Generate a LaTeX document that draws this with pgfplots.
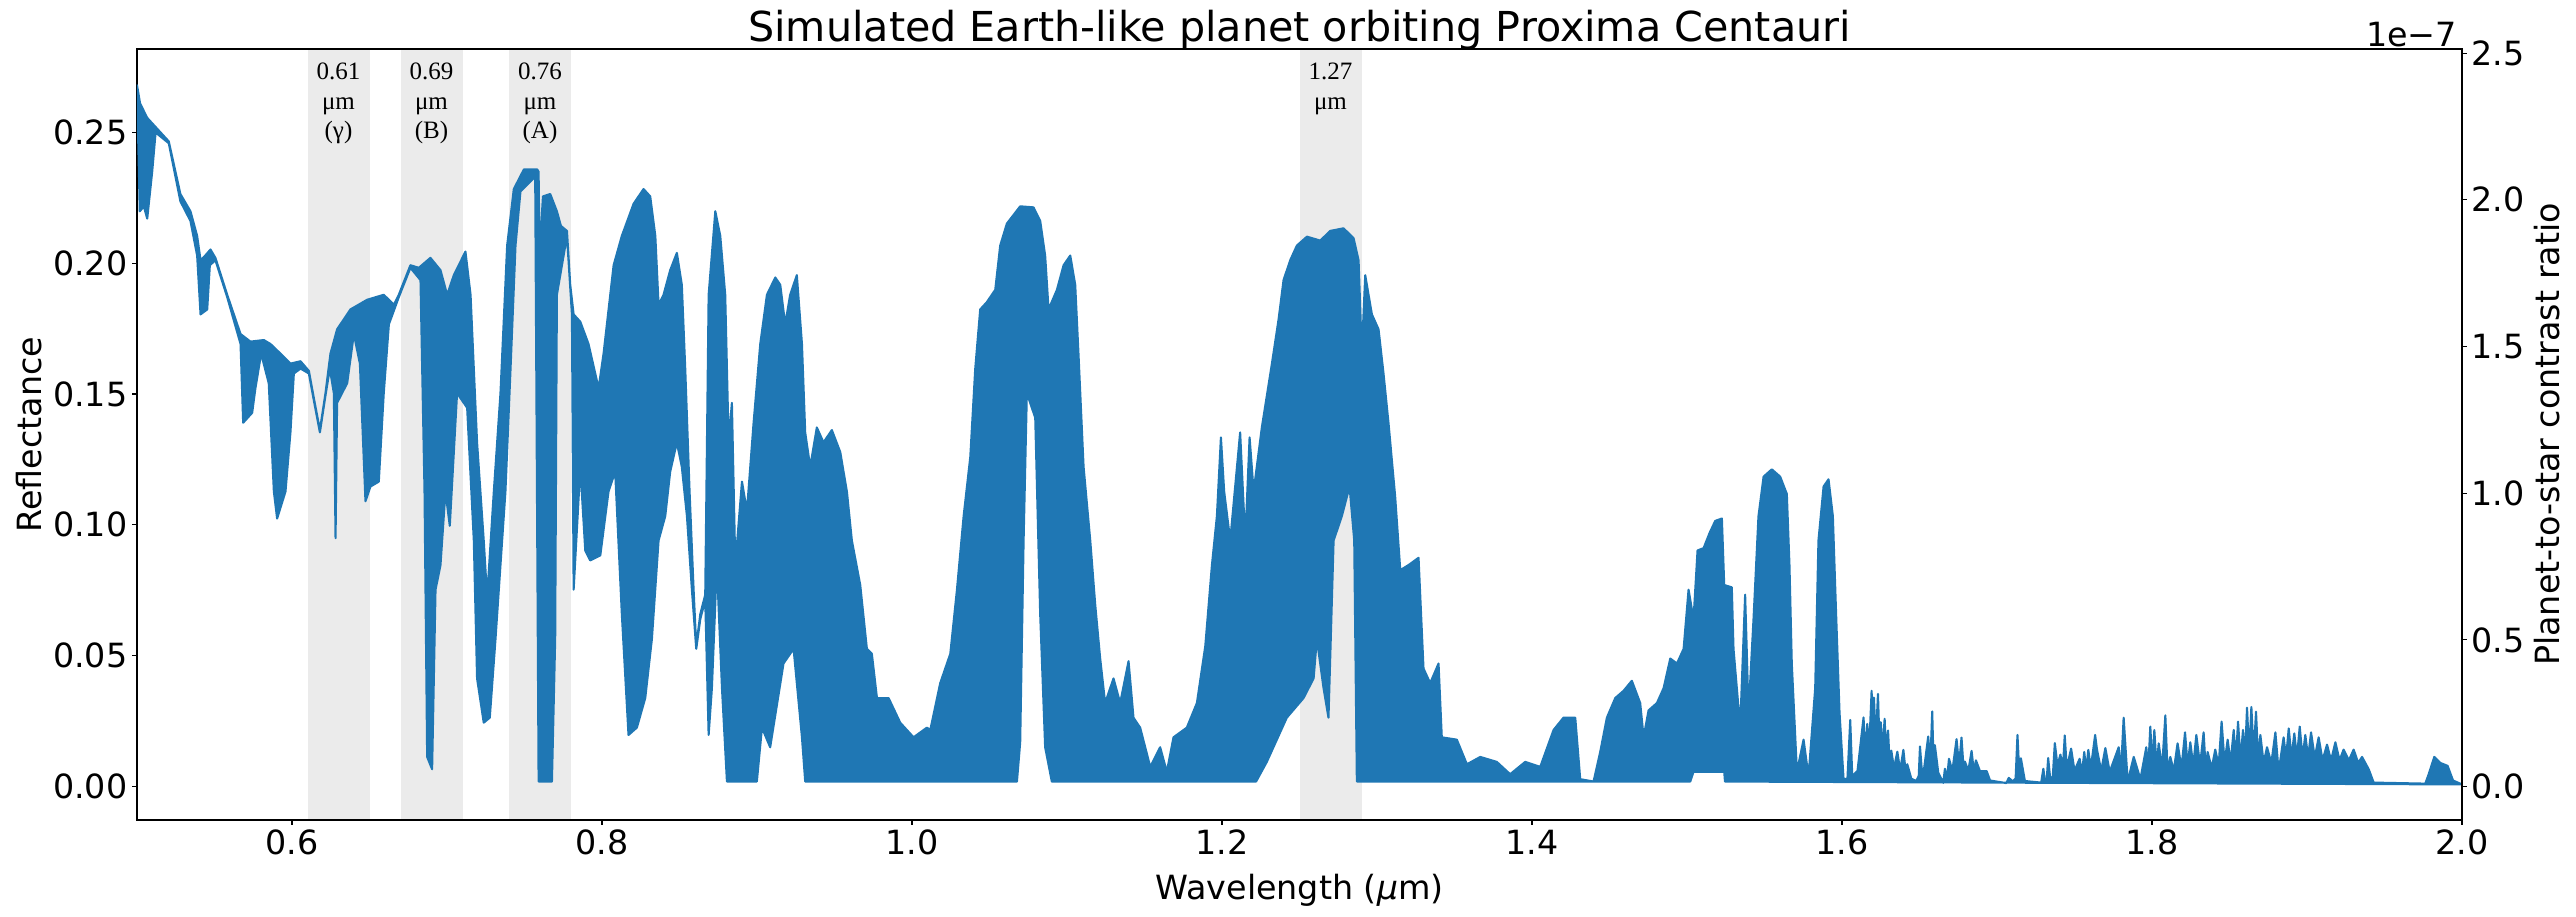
\documentclass[border=0pt]{standalone}
\usepackage{fontspec}
\setmainfont{DejaVu Sans}
\newfontfamily\annfont{Liberation Serif}
\usepackage{pgfplots}
\pgfplotsset{compat=1.18}
\definecolor{mplblue}{HTML}{1F77B4}
\definecolor{band}{HTML}{EBEBEB}
\newcommand\tickfont{\fontsize{24}{28}\selectfont}
\newcommand\annsize{\annfont\fontsize{18}{21}\selectfont}

\begin{document}
\begin{tikzpicture}
\pgfplotsset{
  base/.style={width=1674pt, height=555.1pt, scale only axis,
    at={(0,0)}, anchor=south west,
    xmin=0.5, xmax=2.0, ymin=-0.0128, ymax=0.2818},
}
% shaded O2 bands
\begin{axis}[base, hide axis]
  \addplot[fill=band, draw=none] coordinates {(0.61,-0.1)(0.65,-0.1)(0.65,0.5)(0.61,0.5)} -- cycle;
  \addplot[fill=band, draw=none] coordinates {(0.67,-0.1)(0.71,-0.1)(0.71,0.5)(0.67,0.5)} -- cycle;
  \addplot[fill=band, draw=none] coordinates {(0.74,-0.1)(0.78,-0.1)(0.78,0.5)(0.74,0.5)} -- cycle;
  \addplot[fill=band, draw=none] coordinates {(1.25,-0.1)(1.29,-0.1)(1.29,0.5)(1.25,0.5)} -- cycle;
\end{axis}

\begin{axis}[base, name=ax,
  axis line style={line width=0.8pt, black},
  tick align=outside, xtick pos=bottom, ytick pos=left,
  major tick length=3.5pt,
  every tick/.style={black, line width=0.8pt},
  xtick={0.6,0.8,1.0,1.2,1.4,1.6,1.8,2.0},
  ytick={0,0.05,0.1,0.15,0.2,0.25},
  /pgf/number format/assume math mode=true,
  tick label style={font=\tickfont},
  xticklabel style={/pgf/number format/.cd, fixed, fixed zerofill, precision=1},
  yticklabel style={/pgf/number format/.cd, fixed, fixed zerofill, precision=2},
]
  % spectrum: upper envelope left to right, then lower envelope right to left
  \addplot[fill=mplblue, draw=mplblue, line width=1.5pt, line join=round] coordinates {
(0.500,0.268)(0.502,0.261)(0.5066,0.2555)(0.512,0.252)(0.5205,0.2465)(0.528,0.2264)(0.5345,0.2198)(0.5388,0.2104)(0.541,0.2011)(0.5442,0.203)(0.5474,0.2052)(0.5506,0.202)(0.5582,0.1879)(0.5668,0.1729)(0.5732,0.170)(0.5818,0.1706)(0.5861,0.1691)(0.5926,0.1654)(0.599,0.1616)(0.6055,0.1625)(0.6109,0.1588)(0.6141,0.1484)(0.618,0.1362)(0.6216,0.1503)(0.6248,0.1654)(0.6291,0.1747)(0.6377,0.1823)(0.6485,0.186)(0.6592,0.1879)(0.6657,0.1841)(0.6689,0.1879)(0.6764,0.1992)(0.6818,0.1982)(0.6893,0.202)(0.6958,0.1973)(0.7001,0.1879)(0.7044,0.1954)(0.7119,0.2044)(0.7152,0.1879)(0.7194,0.1315)(0.7237,0.094)(0.7259,0.0723)(0.7302,0.1127)(0.7345,0.1503)(0.7388,0.2067)(0.7431,0.2283)(0.7496,0.2358)(0.7582,0.2358)(0.7591,0.2349)(0.7597,0.203)(0.7619,0.2255)(0.7666,0.2264)(0.7709,0.2198)(0.7735,0.2142)(0.7774,0.2123)(0.7795,0.1917)(0.7817,0.1804)(0.786,0.1776)(0.7913,0.1691)(0.7978,0.1522)(0.801,0.1654)(0.8075,0.1992)(0.8128,0.2104)(0.8204,0.2227)(0.8268,0.2283)(0.8311,0.2255)(0.8344,0.2104)(0.8365,0.1841)(0.8397,0.1879)(0.844,0.1973)(0.8483,0.2039)(0.8515,0.1917)(0.8537,0.1597)(0.8565,0.1127)(0.8591,0.0752)(0.8608,0.0536)(0.8634,0.0658)(0.8666,0.0733)(0.8688,0.1879)(0.8731,0.2198)(0.8763,0.2104)(0.8795,0.1879)(0.8817,0.1315)(0.8838,0.1466)(0.886,0.0846)(0.8903,0.1165)(0.8935,0.1052)(0.8978,0.139)(0.9021,0.1691)(0.9064,0.1879)(0.9118,0.1945)(0.915,0.1917)(0.9182,0.1766)(0.9214,0.1879)(0.9257,0.1954)(0.929,0.1691)(0.9311,0.1353)(0.9343,0.1221)(0.9386,0.1372)(0.9429,0.1315)(0.9483,0.1362)(0.9537,0.1278)(0.958,0.1127)(0.9612,0.094)(0.9666,0.077)(0.9709,0.0526)(0.9741,0.0507)(0.9774,0.0338)(0.9849,0.0338)(0.9924,0.0244)(1.001,0.0188)(1.0096,0.0225)(1.0118,0.0216)(1.0182,0.0395)(1.0247,0.0507)(1.029,0.0752)(1.0333,0.1033)(1.0376,0.1259)(1.0408,0.1597)(1.044,0.1823)(1.0483,0.1851)(1.0537,0.1898)(1.0569,0.2067)(1.0612,0.2151)(1.0698,0.2217)(1.0784,0.2213)(1.0827,0.2161)(1.0859,0.2029)(1.0881,0.1823)(1.0935,0.1898)(1.0978,0.1992)(1.1021,0.2029)(1.1053,0.1917)(1.1074,0.1654)(1.1107,0.1221)(1.115,0.094)(1.1182,0.0695)(1.1214,0.0489)(1.1246,0.0319)(1.13,0.0413)(1.1343,0.0319)(1.1397,0.0479)(1.1429,0.0263)(1.1472,0.0225)(1.1537,0.0075)(1.1601,0.015)(1.1644,0.0056)(1.1687,0.0188)(1.1773,0.0225)(1.1838,0.0319)(1.1892,0.0536)(1.1935,0.0846)(1.1967,0.1033)(1.1993,0.1334)(1.2014,0.1127)(1.2053,0.094)(1.2117,0.1353)(1.215,0.094)(1.2178,0.1334)(1.2204,0.1127)(1.2257,0.1372)(1.2322,0.1616)(1.2365,0.1785)(1.2397,0.1935)(1.244,0.2011)(1.2483,0.2067)(1.2548,0.2101)(1.2634,0.2086)(1.2698,0.2123)(1.2784,0.2133)(1.2849,0.2095)(1.2881,0.2011)(1.2902,0.1654)(1.2924,0.1954)(1.2967,0.1804)(1.301,0.1747)(1.3042,0.1578)(1.3074,0.139)(1.3117,0.1109)(1.315,0.0827)(1.3203,0.0846)(1.3268,0.0874)(1.33,0.0451)(1.3343,0.0395)(1.3397,0.047)(1.3418,0.0188)(1.3515,0.0179)(1.358,0.0085)(1.3666,0.0113)(1.3773,0.0094)(1.3859,0.0047)(1.3956,0.0094)(1.4053,0.0075)(1.4139,0.0216)(1.4203,0.0263)(1.4279,0.0263)(1.4311,0.0028)(1.4397,0.0019)(1.444,0.0132)(1.4483,0.0263)(1.4537,0.0338)(1.4591,0.0366)(1.4644,0.0404)(1.4698,0.0319)(1.472,0.0188)(1.4752,0.0291)(1.4806,0.0319)(1.4849,0.0376)(1.4892,0.0489)(1.4935,0.047)(1.4978,0.0526)(1.501,0.0752)(1.5042,0.0639)(1.5068,0.0902)(1.5107,0.0911)(1.5145,0.0968)(1.5182,0.1015)(1.5225,0.1024)(1.524,0.077)(1.5289,0.0761)(1.53,0.0526)(1.5343,0.0225)(1.5375,0.0733)(1.5397,0.0282)(1.5429,0.0639)(1.5461,0.1033)(1.5494,0.1184)(1.5547,0.1212)(1.5601,0.1184)(1.5644,0.1118)(1.5661,0.0846)(1.5676,0.047)(1.5709,0.0056)(1.5752,0.0179)(1.5784,0.0038)(1.5827,0.0376)(1.5848,0.094)(1.5881,0.1146)(1.5913,0.1174)(1.5941,0.1033)(1.5962,0.0658)(1.5984,0.0282)(1.601,0.0028)
(1.6035,0.003)(1.6053,0.0254)(1.6066,0.004)(1.61,0.006)(1.6139,0.0264)(1.615,0.012)(1.6163,0.0239)(1.6175,0.014)(1.6191,0.0366)(1.62,0.018)(1.6206,0.034)(1.6218,0.017)(1.6232,0.0354)(1.6242,0.016)(1.625,0.0246)(1.6262,0.014)(1.6275,0.0259)(1.6285,0.012)(1.6297,0.0214)(1.6307,0.009)(1.6318,0.0137)(1.6335,0.007)(1.6357,0.0133)(1.6375,0.006)(1.6396,0.014)(1.641,0.006)(1.6421,0.0085)(1.6447,0.003)(1.6479,0.0021)(1.6495,0.004)(1.6503,0.0153)(1.6515,0.006)(1.653,0.007)(1.6556,0.0191)(1.657,0.009)(1.6582,0.0287)(1.659,0.01)(1.6599,0.0158)(1.6621,0.0053)(1.6653,0.0014)(1.6664,0.0068)(1.6678,0.003)(1.669,0.0106)(1.6712,0.006)(1.6739,0.0181)(1.6755,0.008)(1.6771,0.0187)(1.6783,0.008)(1.6793,0.0095)(1.6815,0.006)(1.6836,0.0136)(1.685,0.006)(1.6864,0.01)(1.689,0.0059)(1.6933,0.0059)(1.6955,0.0023)(1.706,0.0013)(1.7076,0.0033)(1.71,0.002)(1.712,0.003)(1.7132,0.0197)(1.7143,0.006)(1.7154,0.0108)(1.718,0.0021)(1.7285,0.0015)(1.7299,0.0068)(1.731,0.0015)(1.732,0.002)(1.733,0.0109)(1.7345,0.002)(1.736,0.004)(1.7373,0.0166)(1.739,0.008)(1.7409,0.0122)(1.7425,0.007)(1.7437,0.0195)(1.745,0.007)(1.7478,0.0145)(1.75,0.006)(1.7533,0.0106)(1.7548,0.005)(1.7563,0.0132)(1.7575,0.006)(1.7589,0.014)(1.7605,0.007)(1.7633,0.0197)
(1.7645,0.0141)(1.7672,0.006)(1.7699,0.0147)(1.7727,0.0056)(1.7785,0.015)(1.78,0.006)(1.7817,0.0263)(1.7843,0.0019)(1.7882,0.0113)(1.7925,0.0028)(1.7963,0.015)(1.7976,0.007)(1.7989,0.0229)(1.8002,0.008)(1.8015,0.0216)(1.803,0.007)(1.8043,0.0165)(1.8065,0.007)(1.8086,0.0272)(1.81,0.006)(1.8118,0.0113)(1.814,0.006)(1.8165,0.0165)(1.819,0.007)(1.8213,0.0207)(1.823,0.008)(1.8247,0.0169)(1.8266,0.008)(1.8286,0.0197)(1.831,0.008)(1.8333,0.0207)(1.8346,0.007)(1.8359,0.0132)(1.8385,0.007)(1.8408,0.0141)(1.843,0.008)(1.8449,0.0248)(1.8468,0.009)(1.8488,0.0179)(1.8507,0.009)(1.8527,0.0216)(1.8541,0.01)(1.8555,0.0248)(1.8571,0.01)(1.8587,0.0216)(1.86,0.011)(1.8613,0.0301)(1.8627,0.012)(1.8641,0.0304)(1.8656,0.012)(1.8671,0.0286)(1.8685,0.01)(1.8699,0.0197)(1.872,0.009)(1.8742,0.015)(1.877,0.009)(1.8796,0.0207)(1.8817,0.0056)(1.8849,0.0188)(1.8865,0.011)(1.8882,0.0222)(1.89,0.011)(1.8918,0.0203)(1.8935,0.011)(1.8953,0.0229)(1.8971,0.011)(1.8989,0.0197)(1.9007,0.011)(1.9026,0.0207)(1.905,0.011)(1.9075,0.0188)(1.91,0.01)(1.9129,0.016)(1.9155,0.01)(1.9183,0.0169)(1.921,0.01)(1.9236,0.0141)(1.927,0.01)(1.9301,0.0141)(1.933,0.009)(1.9355,0.0113)(1.9398,0.0066)(1.943,0.0015)(1.9763,0.0011)(1.9785,0.0047)(1.9821,0.0113)(1.986,0.009)(1.9907,0.0079)(1.9942,0.0023)(2.0,0.0008)
(1.5245,0.0019)(1.524,0.0056)(1.5042,0.0056)(1.5021,0.0019)(1.287,0.0019)(1.2853,0.094)(1.2823,0.1146)(1.2773,0.1033)(1.272,0.094)(1.2687,0.0263)(1.2655,0.0376)(1.2612,0.0564)(1.2591,0.0413)(1.2526,0.0338)(1.2418,0.0263)(1.2289,0.0094)(1.222,0.0019)(1.0902,0.0019)(1.0859,0.015)(1.0827,0.0658)(1.0795,0.1409)(1.0741,0.1503)(1.072,0.094)(1.0698,0.0169)(1.0677,0.0019)(0.9311,0.0019)(0.929,0.0188)(0.9236,0.0526)(0.9171,0.047)(0.9085,0.015)(0.9032,0.0225)(0.8999,0.0019)(0.8806,0.0019)(0.8774,0.0376)(0.8741,0.0846)(0.8709,0.0376)(0.8688,0.0197)(0.8666,0.0714)(0.8634,0.0639)(0.8608,0.0526)(0.858,0.0752)(0.8548,0.1033)(0.8515,0.1221)(0.8483,0.1315)(0.844,0.1203)(0.8408,0.1033)(0.8365,0.094)(0.8322,0.0564)(0.8279,0.0338)(0.8225,0.0225)(0.8171,0.0197)(0.8128,0.0658)(0.8085,0.1203)(0.8042,0.1127)(0.7989,0.0883)(0.7924,0.0864)(0.7892,0.0902)(0.786,0.1221)(0.7817,0.0752)(0.7806,0.1804)(0.7774,0.2104)(0.7709,0.1879)(0.7698,0.0564)(0.7677,0.0019)(0.7591,0.0019)(0.7569,0.233)(0.7474,0.2274)(0.7442,0.2067)(0.741,0.1597)(0.7377,0.1127)(0.7345,0.0846)(0.7313,0.0564)(0.7276,0.0263)(0.7237,0.0244)(0.7194,0.0413)(0.7173,0.094)(0.713,0.1447)(0.7065,0.1503)(0.7018,0.0996)(0.699,0.1127)(0.6958,0.0846)(0.6926,0.0752)(0.6904,0.0066)(0.6872,0.0113)(0.6855,0.1127)(0.6829,0.1935)(0.6764,0.1982)(0.6689,0.187)(0.6625,0.1766)(0.6592,0.1503)(0.656,0.1165)(0.6506,0.1146)(0.6474,0.109)(0.6438,0.1616)(0.6399,0.1729)(0.6356,0.1541)(0.6291,0.1466)(0.6281,0.0949)(0.627,0.1503)(0.6244,0.1597)(0.6216,0.1494)(0.618,0.1353)(0.6141,0.1475)(0.6109,0.1578)(0.6055,0.1597)(0.6012,0.1578)(0.599,0.1353)(0.5958,0.1127)(0.5904,0.1024)(0.5883,0.1127)(0.585,0.1541)(0.5801,0.1654)(0.5764,0.1522)(0.5743,0.1428)(0.5685,0.139)(0.5668,0.1691)(0.5582,0.187)(0.5506,0.2011)(0.547,0.1992)(0.5453,0.1823)(0.541,0.1804)(0.5388,0.2029)(0.5345,0.2161)(0.528,0.2236)(0.5205,0.2458)(0.512,0.2499)(0.5098,0.2349)(0.5066,0.217)(0.5044,0.2217)(0.5018,0.2198)
  } -- cycle;

  % band labels
  \node[anchor=base, font=\annsize] at (axis cs:0.63,0.2702) {0.61};
  \node[anchor=base, font=\annsize] at (axis cs:0.63,0.2587) {μm};
  \node[anchor=base, font=\annsize] at (axis cs:0.63,0.2475) {(γ)};
  \node[anchor=base, font=\annsize] at (axis cs:0.69,0.2702) {0.69};
  \node[anchor=base, font=\annsize] at (axis cs:0.69,0.2587) {μm};
  \node[anchor=base, font=\annsize] at (axis cs:0.69,0.2475) {(B)};
  \node[anchor=base, font=\annsize] at (axis cs:0.76,0.2702) {0.76};
  \node[anchor=base, font=\annsize] at (axis cs:0.76,0.2587) {μm};
  \node[anchor=base, font=\annsize] at (axis cs:0.76,0.2475) {(A)};
  \node[anchor=base, font=\annsize] at (axis cs:1.27,0.2702) {1.27};
  \node[anchor=base, font=\annsize] at (axis cs:1.27,0.2587) {μm};
\end{axis}

% right-hand scale: planet-to-star contrast (units of 1e-7)
\begin{axis}[base, ymin=-0.114, ymax=2.514,
  hide x axis, axis y line*=right,
  axis line style={line width=0.8pt, black},
  tick align=outside, major tick length=3.5pt,
  every tick/.style={black, line width=0.8pt},
  ytick={0,0.5,1.0,1.5,2.0,2.5},
  /pgf/number format/assume math mode=true,
  tick label style={font=\tickfont},
  yticklabel style={/pgf/number format/.cd, fixed, fixed zerofill, precision=1},
]
  \addplot[draw=none] coordinates {(0.5,0)(2.0,2.5)};
\end{axis}

\node[anchor=base, font=\fontsize{29.7}{35}\selectfont] at (837pt,560.4pt) {Simulated Earth-like planet orbiting Proxima Centauri};
\node[anchor=base east, font=\tickfont] at (1674pt,556.6pt) {1e−7};
\node[anchor=base, font=\tickfont] at (837pt,-56.9pt) {Wavelength ({\itshape μ}m)};
\node[rotate=90, font=\tickfont] at (-77.8pt,277.55pt) {Reflectance};
\node[rotate=90, font=\tickfont] at (1735.2pt,277.55pt) {Planet-to-star contrast ratio};
\pgfresetboundingbox
\path (-98.64pt,-69.12pt) rectangle (1756.08pt,590.4pt);
\end{tikzpicture}
\end{document}
